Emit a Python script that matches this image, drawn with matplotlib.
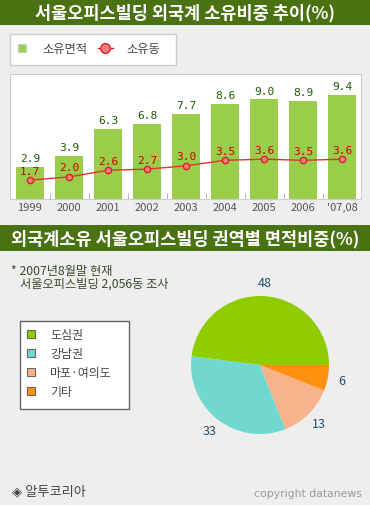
import matplotlib.pyplot as plt
from matplotlib.patches import Rectangle
from matplotlib.lines import Line2D

plt.rcParams['font.family'] = ['Noto Sans CJK KR', 'DejaVu Sans']

years = ['1999', '2000', '2001', '2002', '2003', '2004', '2005', '2006', "'07,08"]
area_share = [2.9, 3.9, 6.3, 6.8, 7.7, 8.6, 9.0, 8.9, 9.4]
bldg_share = [1.7, 2.0, 2.6, 2.7, 3.0, 3.5, 3.6, 3.5, 3.6]

regions = ['도심권', '강남권', '마포·여의도', '기타']
region_share = [48, 33, 13, 6]
region_colors = ['#8fcc00', '#70d8d0', '#f9b38a', '#ff9010']

W, H = 370, 506
BG = '#eeeeee'
DARK_GREEN = '#4b7212'


def fx(x):
    return x / W


def fy(y):
    return 1 - y / H


def box(x0, y0, x1, y1):
    # pixel box (top-left origin) -> fig rect
    return [fx(x0), fy(y1), (x1 - x0) / W, (y1 - y0) / H]


fig = plt.figure(figsize=(W / 100, H / 100), dpi=100, facecolor=BG)

# title bars
for y0, y1, txt in [(0, 26, '서울오피스빌딩 외국계 소유비중 추이(%)'),
                    (226, 252, '외국계소유 서울오피스빌딩 권역별 면적비중(%)')]:
    fig.patches.append(Rectangle((0, fy(y1)), 1, (y1 - y0) / H, transform=fig.transFigure,
                                 facecolor=DARK_GREEN, edgecolor='none'))
    fig.text(0.5, fy((y0 + y1) / 2 + 0.5), txt, color='white', fontsize=12.6, fontweight='bold',
             ha='center', va='center')

# legend for top chart
fig.patches.append(Rectangle((fx(10), fy(66)), 166 / W, 31 / H, transform=fig.transFigure,
                             facecolor='white', edgecolor='#cccccc', lw=1))
fig.patches.append(Rectangle((fx(17.5), fy(52.5)), 8 / W, 8 / H, transform=fig.transFigure,
                             facecolor='#9acd4a', edgecolor='#cccccc', lw=0.8))
fig.text(fx(42), fy(49), '소유면적', fontsize=8.8, color='#444444', va='center')
fig.lines.append(Line2D([fx(98), fx(113)], [fy(48.5), fy(48.5)], transform=fig.transFigure,
                        color='#e02020', lw=1, zorder=3))
fig.lines.append(Line2D([fx(105.5)], [fy(48.5)], transform=fig.transFigure, color='#e02020',
                        marker='o', markersize=7, markerfacecolor='#f08080',
                        markeredgecolor='#e02020', zorder=4))
fig.text(fx(126), fy(49), '소유동', fontsize=8.8, color='#444444', va='center')

# bar + line chart
ax = fig.add_axes(box(10, 75, 361, 200))
ax.set_facecolor('white')
x = range(len(years))
ax.bar(x, area_share, width=0.72, color='#9acd4a', zorder=2)
ax.plot(x, bldg_share, color='#e83030', lw=1, marker='o', markersize=4.5,
        markerfacecolor='#f08080', markeredgecolor='#dd2020', zorder=3)
for i, v in enumerate(area_share):
    ax.text(i, v + 0.35, f'{v:.1f}', ha='center', va='bottom', fontsize=8,
            family='DejaVu Sans Mono', color='#1f5a00')
for i, v in enumerate(bldg_share):
    ax.text(i, v + 0.4, f'{v:.1f}', ha='center', va='bottom', fontsize=8,
            family='DejaVu Sans Mono', color='#cc0000', zorder=4)
ax.set_xlim(-0.513, 8.487)
ax.set_ylim(0, 11.3)
ax.set_yticks([])
ax.set_xticks(list(x))
ax.set_xticklabels(years, fontsize=8, color='#555555')
ax.tick_params(axis='x', length=0, pad=2)
ax.set_xticks([i + 0.5 for i in range(8)], minor=True)
ax.tick_params(axis='x', which='minor', direction='in', length=4, color='#aaaaaa')
for s in ax.spines.values():
    s.set_color('#cccccc')

# note
fig.text(fx(11), fy(271), '* 2007년8월말 현재', fontsize=8.8, color='#3a4a2a', va='center')
fig.text(fx(20), fy(284), '서울오피스빌딩 2,056동 조사', fontsize=8.8, color='#3a4a2a', va='center')

# pie
cx, cy, r = 260, 366, 69
pax = fig.add_axes(box(cx - r, cy - r, cx + r, cy + r))
wedges, texts = pax.pie(region_share, colors=region_colors, startangle=0, counterclock=True,
                        labels=[str(v) for v in region_share], labeldistance=1.2,
                        wedgeprops=dict(linewidth=0), radius=1)
for t in texts:
    t.set_color('#1f4f6f')
    t.set_fontsize(9)
    t.set_ha('center')
    t.set_va('center')
pax.set_xlim(-1, 1)
pax.set_ylim(-1, 1)
pax.set_aspect('equal')
pax.axis('off')

# legend for pie
fig.patches.append(Rectangle((fx(19.5), fy(410)), 109 / W, 88 / H, transform=fig.transFigure,
                             facecolor='white', edgecolor='#666666', lw=1))
for i, (name, c) in enumerate(zip(regions, region_colors)):
    yc = 335 + i * 19
    fig.patches.append(Rectangle((fx(26.5), fy(yc + 4)), 8 / W, 8 / H, transform=fig.transFigure,
                                 facecolor=c, edgecolor='#666666', lw=0.8))
    fig.text(fx(50), fy(yc + 0.5), name, fontsize=8.6, color='#444444', va='center')

# footer
fig.text(fx(12), fy(492), '◈ 알투코리아', fontsize=9.5, color='#444444', va='center',
         family=['Noto Sans CJK KR', 'DejaVu Sans'])
fig.text(fx(362), fy(494), 'copyright datanews', fontsize=7.8, color='#999999', va='center',
         ha='right', family='DejaVu Sans')

fig.savefig('out.png', dpi=100, facecolor=BG)
